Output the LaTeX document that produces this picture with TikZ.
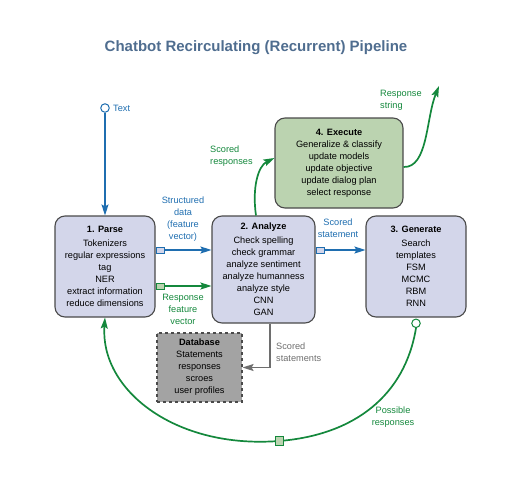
\documentclass[tikz,border=0pt]{standalone}
\usepackage{fontspec}
\setmainfont{Liberation Sans}
\usetikzlibrary{arrows.meta}

\definecolor{titleblue}{HTML}{4F6D8F}
\definecolor{stagefill}{HTML}{D3D6EA}
\definecolor{execfill}{HTML}{BBD3B0}
\definecolor{dbfill}{HTML}{A3A3A3}
\definecolor{boxline}{HTML}{4A4A4A}
\definecolor{flowblue}{HTML}{1F6EB0}
\definecolor{flowgreen}{HTML}{14883C}
\definecolor{flowgray}{HTML}{6E6E6E}

\newcommand\diagfont{\fontsize{9.2}{12}\selectfont}

\tikzset{
  stage/.style={rectangle, rounded corners=10pt, draw=boxline, line width=1.1pt,
    fill=stagefill, align=center, inner sep=0pt, font=\diagfont},
  dbbox/.style={rectangle, draw=boxline, dashed, line width=1.1pt,
    fill=dbfill, align=center, inner sep=0pt, font=\diagfont},
  lbl/.style={align=center, inner sep=0pt, font=\diagfont},
  bluearrow/.style={draw=flowblue, line width=1.6pt, -{Stealth[length=11pt,width=7pt,inset=2pt]}},
  greenarrow/.style={draw=flowgreen, line width=1.7pt, -{Stealth[length=11pt,width=7pt,inset=2pt]}},
  grayarrow/.style={draw=flowgray, line width=1.6pt, -{Stealth[length=11pt,width=7pt,inset=2pt]}},
  bluemark/.style={rectangle, draw=flowblue, fill=stagefill, line width=1pt,
    minimum width=8pt, minimum height=6pt, inner sep=0pt},
  greenmark/.style={rectangle, draw=flowgreen, fill=execfill, line width=1pt,
    minimum width=8pt, minimum height=6pt, inner sep=0pt},
  port/.style={circle, fill=white, line width=1pt, minimum size=8.5pt, inner sep=0pt}
}

\begin{document}
\begin{tikzpicture}[x=1pt,y=-1pt]
  \useasboundingbox (0,0) rectangle (530,490);

  \node[font=\bfseries\fontsize{15}{18}\selectfont, text=titleblue] (title) at (256,48)
    {Chatbot Recirculating (Recurrent) Pipeline};

  % stages
  \node[stage, minimum width=100pt, minimum height=101pt] (parse) at (105,266.5)
    {\textbf{1. Parse}\\[2pt] Tokenizers\\ regular expressions\\ tag\\ NER\\ extract information\\ reduce dimensions};
  \node[stage, minimum width=103pt, minimum height=107pt] (analyze) at (263.5,269.5)
    {\textbf{2. Analyze}\\[2pt] Check spelling\\ check grammar\\ analyze sentiment\\ analyze humanness\\ analyze style\\ CNN\\ GAN};
  \node[stage, minimum width=100pt, minimum height=101pt] (generate) at (416,266.5)
    {\textbf{3. Generate}\\[2pt] Search\\ templates\\ FSM\\ MCMC\\ RBM\\ RNN};
  \node[stage, fill=execfill, minimum width=128pt, minimum height=90pt] (execute) at (339,163)
    {\textbf{4. Execute}\\ Generalize \& classify\\ update models\\ update objective\\ update dialog plan\\ select response};
  \node[dbbox, minimum width=85pt, minimum height=69pt] (database) at (199.5,367.5)
    {\textbf{Database}\\ Statements\\ responses\\ scroes\\ user profiles};

  % input text
  \node[port, draw=flowblue] (textin) at (105,108) {};
  \node[lbl, text=flowblue, anchor=west] (textlbl) at (113,108) {Text};
  \draw[bluearrow] (textin.south) -- (parse.north);

  % parse -> analyze
  \node[bluemark, anchor=west] (pm1) at ([yshift=16.5pt]parse.east) {};
  \node[greenmark, anchor=west] (pm2) at ([yshift=-19.5pt]parse.east) {};
  \draw[bluearrow] (pm1.east) -- (pm1.east -| analyze.west);
  \draw[greenarrow] (pm2.east) -- (pm2.east -| analyze.west);
  \node[lbl, text=flowblue] (structlbl) at (183,219) {Structured\\ data\\ (feature\\ vector)};
  \node[lbl, text=flowgreen] (resplbl) at (183,309) {Response\\ feature\\ vector};

  % analyze -> generate
  \node[bluemark, anchor=west] (am1) at ([yshift=19.5pt]analyze.east) {};
  \draw[bluearrow] (am1.east) -- (am1.east -| generate.west);
  \node[lbl, text=flowblue] (scoredlbl) at (338,228) {Scored\\ statement};

  % analyze -> execute
  \draw[greenarrow] ([xshift=-7.5pt]analyze.north) .. controls (252,188) and (258,166) .. ([yshift=5pt]execute.west);
  \node[lbl, text=flowgreen, align=left, anchor=west] (scresplbl) at (210,156) {Scored\\ responses};

  % execute -> response string
  \coordinate (respout) at (439,86);
  \draw[greenarrow] ([yshift=-4pt]execute.east) .. controls (428,168) and (426,118) .. (respout);
  \node[lbl, text=flowgreen, align=left, anchor=west] (strlbl) at (380,100) {Response\\ string};

  % analyze -> database
  \draw[grayarrow] ([xshift=6.5pt]analyze.south) |- (database.east);
  \node[lbl, text=flowgray, align=left, anchor=west] (stmtlbl) at (276,352) {Scored\\ statements};

  % generate -> parse (recirculation)
  \node[port, draw=flowgreen, anchor=north] (genout) at ([yshift=-1pt]generate.south) {};
  \coordinate (loopbot) at (279,441);
  \draw[greenarrow] (genout.south) .. controls (405,395) and (355,435) .. (loopbot)
    .. controls (175,449) and (100,390) .. (parse.south);
  \node[greenmark, minimum height=9pt] (lm) at (loopbot) {};
  \node[lbl, text=flowgreen] (posslbl) at (393,417) {Possible\\ responses};
\end{tikzpicture}
\end{document}
